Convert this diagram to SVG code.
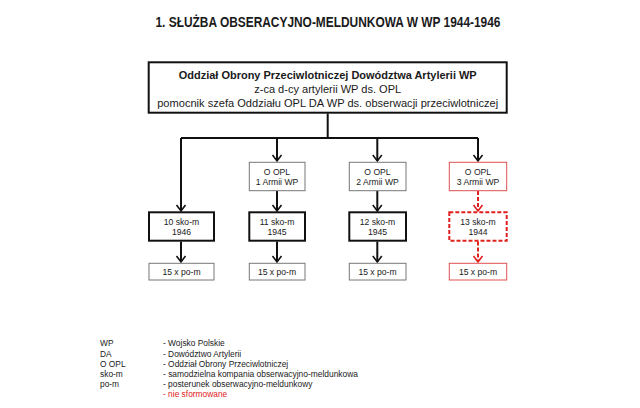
<svg xmlns="http://www.w3.org/2000/svg" width="640" height="408" viewBox="0 0 640 408">
<style>
text{font-family:"Liberation Sans",Arial,sans-serif;fill:#1a1a1a}
.t{font-size:14.5px;font-weight:bold;text-anchor:middle}
.m{font-size:11.5px;text-anchor:middle}
.mb{font-size:11.5px;font-weight:bold;text-anchor:middle}
.s{font-size:8.6px;text-anchor:middle}
.l{font-size:8.4px}
.red{fill:#e0201c}
.thick{fill:#fff;stroke:#111;stroke-width:2}
.thin{fill:#fff;stroke:#777;stroke-width:1}
.rthin{fill:#fff;stroke:#e05050;stroke-width:1}
.rdash{fill:#fff;stroke:#e0201c;stroke-width:2;stroke-dasharray:4 2}
.c{fill:none;stroke:#111;stroke-width:2}
.cr{fill:none;stroke:#e0201c;stroke-width:2;stroke-dasharray:4 2}
</style>
<defs>
<marker id="ab" viewBox="0 0 10 10" refX="9" refY="5" markerWidth="5" markerHeight="5" orient="auto" markerUnits="userSpaceOnUse">
</marker>
</defs>
<text class="t" x="328" y="27" textLength="345" lengthAdjust="spacingAndGlyphs">1. SŁUŻBA OBSERACYJNO-MELDUNKOWA W WP 1944-1946</text>

<g id="connectors">
<path class="c" d="M327.7 113.5V138M181 138H478M181 138V211M277 138V161M377.3 138V161M478 138V161"/>
<path class="c" d="M277 191V211M377.3 191V211M181 241.5V262M277 241.5V262M377.3 241.5V262"/>
<path class="cr" d="M478 191V211M478 241.5V262"/>
<g fill="none" stroke="#111" stroke-width="1.6" stroke-linejoin="miter">
<path d="M176.5 205L181 211L185.5 205"/>
<path d="M272.5 205L277 211L281.5 205"/>
<path d="M372.8 205L377.3 211L381.8 205"/>
<path d="M272.5 155L277 161L281.5 155"/>
<path d="M372.8 155L377.3 161L381.8 155"/>
<path d="M473.5 155L478 161L482.5 155"/>
<path d="M176.5 256L181 262L185.5 256"/>
<path d="M272.5 256L277 262L281.5 256"/>
<path d="M372.8 256L377.3 262L381.8 256"/>
</g>
<g fill="none" stroke="#e0201c" stroke-width="1.6">
<path d="M473.5 205L478 211L482.5 205"/>
<path d="M473.5 256L478 262L482.5 256"/>
</g>
</g>

<g id="main">
<rect class="thick" x="148.7" y="62.3" width="358" height="50.4"/>
<text class="mb" x="327.7" y="79" textLength="298" lengthAdjust="spacingAndGlyphs">Oddział Obrony Przeciwlotniczej  Dowództwa Artylerii WP</text>
<text class="m" x="327.7" y="93" textLength="147" lengthAdjust="spacingAndGlyphs">z-ca d-cy artylerii WP ds. OPL</text>
<text class="m" x="327.7" y="106.7" textLength="341" lengthAdjust="spacingAndGlyphs">pomocnik szefa Oddziału OPL DA WP ds. obserwacji przeciwlotniczej</text>
</g>

<g id="opl1">
<rect class="thin" x="249.3" y="162.3" width="55.7" height="28.4"/>
<text class="s" x="277" y="174.8">O OPL</text>
<text class="s" x="277" y="185.4">1 Armii WP</text>
</g>
<g id="opl2">
<rect class="thin" x="349.3" y="162.3" width="56.7" height="28.4"/>
<text class="s" x="377.5" y="174.8">O OPL</text>
<text class="s" x="377.5" y="185.4">2 Armii WP</text>
</g>
<g id="opl3">
<rect class="rthin" x="449.3" y="162.3" width="57.4" height="28.4"/>
<text class="s" x="478" y="174.8">O OPL</text>
<text class="s" x="478" y="185.4">3 Armii WP</text>
</g>

<g id="sko10">
<rect class="thick" x="149" y="212.3" width="65" height="28.4"/>
<text class="s" x="181.5" y="224.8">10 sko-m</text>
<text class="s" x="181.5" y="235.4">1946</text>
</g>
<g id="sko11">
<rect class="thick" x="249.3" y="212.3" width="55.7" height="28.4"/>
<text class="s" x="277" y="224.8">11 sko-m</text>
<text class="s" x="277" y="235.4">1945</text>
</g>
<g id="sko12">
<rect class="thick" x="349.3" y="212.3" width="56.7" height="28.4"/>
<text class="s" x="377.5" y="224.8">12 sko-m</text>
<text class="s" x="377.5" y="235.4">1945</text>
</g>
<g id="sko13">
<rect class="rdash" x="449.3" y="212.3" width="57.4" height="28.4"/>
<text class="s" x="478" y="224.8">13 sko-m</text>
<text class="s" x="478" y="235.4">1944</text>
</g>

<g id="pom10">
<rect class="thin" x="149" y="263.3" width="65" height="16.7"/>
<text class="s" x="181.5" y="275.3">15 x po-m</text>
</g>
<g id="pom11">
<rect class="thin" x="249.3" y="263.3" width="55.7" height="16.7"/>
<text class="s" x="277" y="275.3">15 x po-m</text>
</g>
<g id="pom12">
<rect class="thin" x="349.3" y="263.3" width="56.7" height="16.7"/>
<text class="s" x="377.5" y="275.3">15 x po-m</text>
</g>
<g id="pom13">
<rect class="rthin" x="449.3" y="263.3" width="57.4" height="16.7"/>
<text class="s" x="478" y="275.3">15 x po-m</text>
</g>

<g id="legend">
<text class="l" x="100" y="346.3">WP</text>
<text class="l" x="100" y="356.5">DA</text>
<text class="l" x="100" y="366.7">O OPL</text>
<text class="l" x="100" y="376.8">sko-m</text>
<text class="l" x="100" y="387">po-m</text>
<text class="l" x="163" y="346.3">- Wojsko Polskie</text>
<text class="l" x="163" y="356.5">- Dowództwo Artylerii</text>
<text class="l" x="163" y="366.7">- Oddział Obrony Przeciwlotniczej</text>
<text class="l" x="163" y="376.8" textLength="195" lengthAdjust="spacingAndGlyphs">- samodzielna kompania obserwacyjno-meldunkowa</text>
<text class="l" x="163" y="387">- posterunek obserwacyjno-meldunkowy</text>
<text class="l red" x="163" y="397.2">- nie sformowane</text>
</g>
</svg>
